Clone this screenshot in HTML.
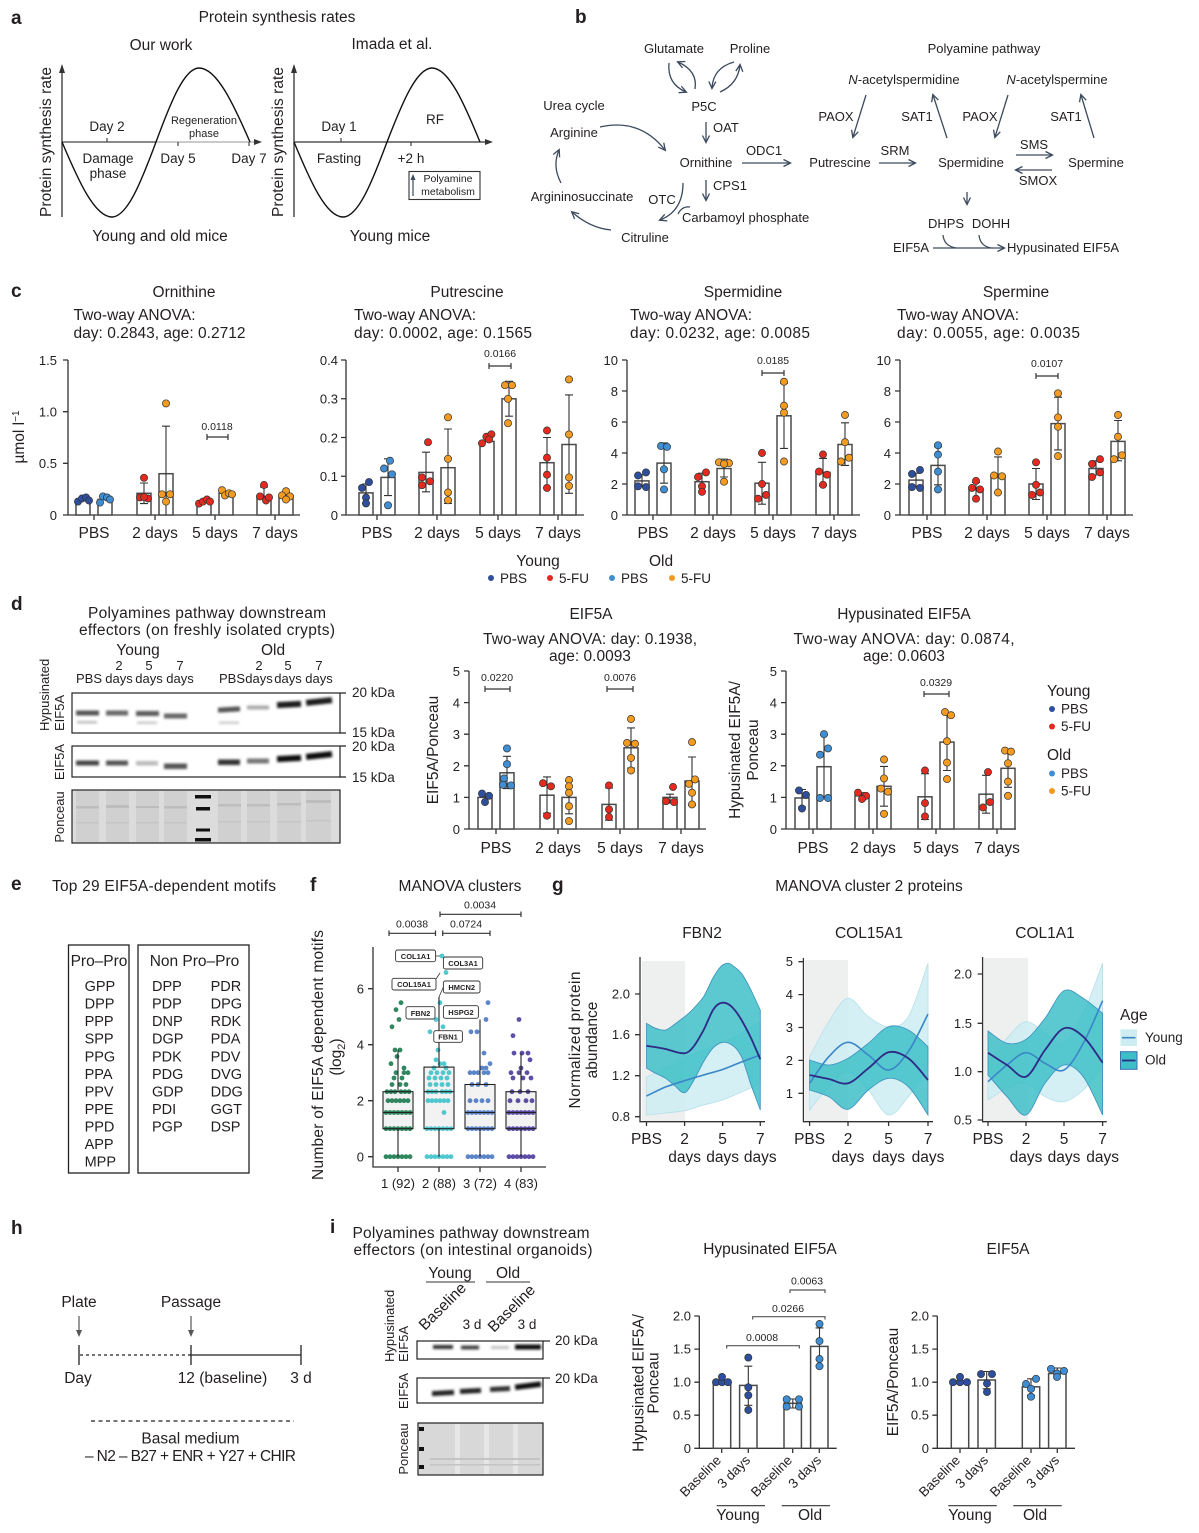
<!DOCTYPE html>
<html><head><meta charset="utf-8">
<style>
html,body{margin:0;padding:0;background:#fff}
svg{display:block}
text{font-family:"Liberation Sans",Arial,sans-serif;fill:#231f20}
.L{font-size:19px;font-weight:bold}
.m{font-size:15.5px}
.s{font-size:13.5px}
.b{font-size:13px}
.k{font-size:13px}
.x{font-size:10.5px}
.ax{stroke:#333;stroke-width:1.3;fill:none}
.bar{fill:#fff;stroke:#4a4a4a;stroke-width:1.5}
.eb{stroke:#333;stroke-width:1.1;fill:none}
.ar{stroke:#3c4a5e;stroke-width:1.3;fill:none}
.sg{stroke:#333;stroke-width:1.2;fill:none}
.yr{fill:#cdedf2;fill-opacity:0.85;stroke:#b5e0ea;stroke-width:0.8}
.or{fill:#3ebfc7;fill-opacity:0.85;stroke:#3b8fbf;stroke-width:0.8}
.yl{fill:none;stroke:#3a86c8;stroke-width:1.6}
.ol{fill:none;stroke:#2e2a86;stroke-width:1.8}
</style></head><body>
<svg width="1199" height="1533" viewBox="0 0 1199 1533" xmlns="http://www.w3.org/2000/svg">
<defs>
<marker id="ah" markerWidth="9" markerHeight="9" refX="7" refY="4.5" orient="auto" markerUnits="userSpaceOnUse"><path d="M0.5,1 L7.5,4.5 L0.5,8" fill="none" stroke="#3c4a5e" stroke-width="1.3"/></marker>
<filter id="bl" x="-20%" y="-100%" width="140%" height="300%"><feGaussianBlur stdDeviation="1.2"/></filter>
</defs>
<rect width="1199" height="1533" fill="#fff"/>

<!-- ================= PANEL A ================= -->
<text class="L" x="11" y="24">a</text>
<text class="m" x="277" y="22" text-anchor="middle">Protein synthesis rates</text>
<text class="m" x="161" y="50" text-anchor="middle">Our work</text>
<text class="m" x="392" y="49" text-anchor="middle">Imada et al.</text>
<line x1="62" y1="217" x2="62" y2="70" class="ax"/>
<path d="M59,73 L62,64 L65,73z" fill="#333"/>
<line x1="62" y1="142" x2="156" y2="142" stroke="#444" stroke-width="1.3"/>
<line x1="156" y1="142" x2="256" y2="142" stroke="#aaa" stroke-width="1.3"/>
<path d="M254,139 L262,142 L254,145z" fill="#333"/>
<path d="M62,142 C78.3,180.4 94.5,217 112,217 C127.4,217 141.7,180.4 156,142 C170,104.1 184,68 199,68 C216.8,68 233.4,104.1 250,142" fill="none" stroke="#111" stroke-width="1.4"/>
<path d="M107,138 V142 M178,142 V146 M249,142 V146" stroke="#444" stroke-width="1.2"/>
<text class="s" x="107" y="131" text-anchor="middle">Day 2</text>
<text class="s" x="108" y="163" text-anchor="middle">Damage</text>
<text class="s" x="108" y="178" text-anchor="middle">phase</text>
<text class="s" x="178" y="163" text-anchor="middle">Day 5</text>
<text class="s" x="249" y="163" text-anchor="middle">Day 7</text>
<text x="204" y="124" text-anchor="middle" style="font-size:11px">Regeneration</text>
<text x="204" y="137" text-anchor="middle" style="font-size:11px">phase</text>
<text class="m" transform="translate(51,142) rotate(-90)" text-anchor="middle" textLength="150">Protein synthesis rate</text>
<text class="m" x="160" y="241" text-anchor="middle">Young and old mice</text>
<line x1="294" y1="217" x2="294" y2="70" class="ax"/>
<path d="M291,73 L294,64 L297,73z" fill="#333"/>
<line x1="294" y1="142" x2="487" y2="142" stroke="#555" stroke-width="1.4"/>
<path d="M485,139 L493,142 L485,145z" fill="#333"/>
<path d="M294,142 C310,180.4 325.9,217 343,217 C358.4,217 372.7,180.4 387,142 C401.7,104.1 416.3,68 432,68 C448.8,68 464.4,104.1 480,142" fill="none" stroke="#111" stroke-width="1.4"/>
<path d="M341,138 V142 M411,142 V146" stroke="#444" stroke-width="1.2"/>
<text class="s" x="339" y="131" text-anchor="middle">Day 1</text>
<text class="s" x="339" y="163" text-anchor="middle">Fasting</text>
<text class="s" x="411" y="163" text-anchor="middle">+2 h</text>
<text class="s" x="435" y="124" text-anchor="middle">RF</text>
<rect x="409" y="171.5" width="71" height="28" fill="none" stroke="#333" stroke-width="1.1"/>
<line x1="413" y1="196" x2="413" y2="179" stroke="#3c4a5e" stroke-width="1.2"/>
<path d="M410.5,180 L413,174 L415.5,180z" fill="#3c4a5e"/>
<text x="448" y="182" text-anchor="middle" style="font-size:10.5px">Polyamine</text>
<text x="448" y="195" text-anchor="middle" style="font-size:10.5px">metabolism</text>
<text class="m" transform="translate(283,142) rotate(-90)" text-anchor="middle" textLength="150">Protein synthesis rate</text>
<text class="m" x="390" y="241" text-anchor="middle">Young mice</text>

<!-- ================= PANEL B ================= -->
<text class="L" x="575" y="23">b</text>
<text class="b" x="674" y="53" text-anchor="middle">Glutamate</text>
<text class="b" x="750" y="53" text-anchor="middle">Proline</text>
<path class="ar" d="M669,63 Q667,84 686,92" marker-end="url(#ah)"/>
<path class="ar" d="M695,89 Q698,71 678,62" marker-end="url(#ah)"/>
<path class="ar" d="M720,92 Q738,84 740,65" marker-end="url(#ah)"/>
<path class="ar" d="M734,62 Q713,68 712,88" marker-end="url(#ah)"/>
<text class="b" x="704" y="111" text-anchor="middle">P5C</text>
<line class="ar" x1="706" y1="122" x2="706" y2="142" marker-end="url(#ah)"/>
<text class="b" x="713" y="132">OAT</text>
<text class="b" x="574" y="110" text-anchor="middle">Urea cycle</text>
<text class="b" x="574" y="137" text-anchor="middle">Arginine</text>
<path class="ar" d="M600,127 Q640,118 665,150" marker-end="url(#ah)"/>
<text class="b" x="706" y="167" text-anchor="middle">Ornithine</text>
<line class="ar" x1="742" y1="163" x2="790" y2="163" marker-end="url(#ah)"/>
<text class="b" x="764" y="155" text-anchor="middle">ODC1</text>
<text class="b" x="840" y="167" text-anchor="middle">Putrescine</text>
<line class="ar" x1="879" y1="163" x2="915" y2="163" marker-end="url(#ah)"/>
<text class="b" x="895" y="155" text-anchor="middle">SRM</text>
<text class="b" x="971" y="167" text-anchor="middle">Spermidine</text>
<line class="ar" x1="1016" y1="155" x2="1052" y2="155" marker-end="url(#ah)"/>
<text class="b" x="1034" y="149" text-anchor="middle">SMS</text>
<line class="ar" x1="1052" y1="170" x2="1016" y2="170" marker-end="url(#ah)"/>
<text class="b" x="1038" y="185" text-anchor="middle">SMOX</text>
<text class="b" x="1096" y="167" text-anchor="middle">Spermine</text>
<text class="b" x="984" y="53" text-anchor="middle">Polyamine pathway</text>
<text class="b" x="904" y="84" text-anchor="middle"><tspan font-style="italic">N</tspan>-acetylspermidine</text>
<text class="b" x="1057" y="84" text-anchor="middle"><tspan font-style="italic">N</tspan>-acetylspermine</text>
<line class="ar" x1="866" y1="95" x2="853" y2="137" marker-end="url(#ah)"/>
<text class="b" x="836" y="121" text-anchor="middle">PAOX</text>
<line class="ar" x1="947" y1="138" x2="933" y2="95" marker-end="url(#ah)"/>
<text class="b" x="917" y="121" text-anchor="middle">SAT1</text>
<line class="ar" x1="1008" y1="95" x2="995" y2="137" marker-end="url(#ah)"/>
<text class="b" x="980" y="121" text-anchor="middle">PAOX</text>
<line class="ar" x1="1094" y1="138" x2="1081" y2="95" marker-end="url(#ah)"/>
<text class="b" x="1066" y="121" text-anchor="middle">SAT1</text>
<line class="ar" x1="967" y1="192" x2="967" y2="204" marker-end="url(#ah)"/>
<text class="b" x="946" y="228" text-anchor="middle">DHPS</text>
<text class="b" x="991" y="228" text-anchor="middle">DOHH</text>
<text class="b" x="911" y="252" text-anchor="middle">EIF5A</text>
<line class="ar" x1="933" y1="248" x2="1004" y2="248" marker-end="url(#ah)"/>
<path class="ar" d="M943,235 Q944,246 956,248 M979,235 Q980,246 991,248"/>
<text class="b" x="1007" y="252">Hypusinated EIF5A</text>
<line class="ar" x1="706" y1="180" x2="706" y2="200" marker-end="url(#ah)"/>
<text class="b" x="713" y="190">CPS1</text>
<text class="b" x="682" y="222">Carbamoyl phosphate</text>
<text class="b" x="662" y="204" text-anchor="middle">OTC</text>
<path class="ar" d="M683,183 Q683,211 660,220" marker-end="url(#ah)"/>
<path class="ar" d="M690,207 Q682,206 678,214"/>
<text class="b" x="582" y="201" text-anchor="middle">Argininosuccinate</text>
<text class="b" x="645" y="242" text-anchor="middle">Citruline</text>
<path class="ar" d="M611,230 Q590,228 572,212" marker-end="url(#ah)"/>
<path class="ar" d="M561,183 Q552,166 559,150" marker-end="url(#ah)"/>

<!-- ================= PANEL C ================= -->
<text class="L" x="11" y="297">c</text>
<text class="m" x="184" y="297" text-anchor="middle">Ornithine</text>
<text class="m" x="73.5" y="320" textLength="122">Two-way ANOVA:</text>
<text class="m" x="73.5" y="338" textLength="172">day: 0.2843, age: 0.2712</text>
<text class="m" x="467" y="297" text-anchor="middle">Putrescine</text>
<text class="m" x="354" y="320" textLength="122">Two-way ANOVA:</text>
<text class="m" x="354" y="338" textLength="178">day: 0.0002, age: 0.1565</text>
<text class="m" x="743" y="297" text-anchor="middle">Spermidine</text>
<text class="m" x="630" y="320" textLength="122">Two-way ANOVA:</text>
<text class="m" x="630" y="338" textLength="180">day: 0.0232, age: 0.0085</text>
<text class="m" x="1016" y="297" text-anchor="middle">Spermine</text>
<text class="m" x="897" y="320" textLength="122">Two-way ANOVA:</text>
<text class="m" x="897" y="338" textLength="183">day: 0.0055, age: 0.0035</text>

<text class="m" transform="translate(24,437) rotate(-90)" text-anchor="middle">µmol l<tspan dy="-5" font-size="10">−1</tspan></text>

<path class="ax" d="M68,360 V515 H300 M63,360 H68 M63,411.7 H68 M63,463.3 H68 M63,515 H68 M94,515 V520 M155,515 V520 M215,515 V520 M275,515 V520"/>
<g class="k" text-anchor="end"><text x="57" y="365">1.5</text><text x="57" y="416.5">1.0</text><text x="57" y="468">0.5</text><text x="57" y="520">0</text></g>
<g class="m" text-anchor="middle"><text x="94" y="538">PBS</text><text x="155" y="538">2 days</text><text x="215" y="538">5 days</text><text x="275" y="538">7 days</text></g>
<g class="bar">
<rect x="76" y="500.5" width="14" height="14.5"/><rect x="98" y="499.5" width="14" height="15.5"/>
<rect x="137" y="493.3" width="14" height="21.7"/><rect x="159" y="473.7" width="14" height="41.3"/>
<rect x="197" y="501.6" width="14" height="13.4"/><rect x="219" y="493.3" width="14" height="21.7"/>
<rect x="257" y="496.4" width="14" height="18.6"/><rect x="279" y="496.4" width="14" height="18.6"/>
</g>
<path class="eb" d="M144,483 V503.6 M140,483 H148 M140,503.6 H148 M166,426.2 V515 M162,426.2 H170 M264,487.1 V502.6 M260,487.1 H268 M286,492.3 V500.5 M282,492.3 H290"/>
<g fill="#2d4f9e" stroke="#333" stroke-width="0.7"><circle cx="78" cy="501.6" r="3.6"/><circle cx="82" cy="498.5" r="3.6"/><circle cx="86" cy="497.4" r="3.6"/><circle cx="89" cy="500.5" r="3.6"/></g>
<g fill="#3f8ed3" stroke="#333" stroke-width="0.7"><circle cx="100" cy="502.6" r="3.6"/><circle cx="103" cy="496.4" r="3.6"/><circle cx="107" cy="497.4" r="3.6"/><circle cx="110" cy="499.5" r="3.6"/></g>
<g fill="#e42a1f" stroke="#333" stroke-width="0.7"><circle cx="144" cy="477.8" r="3.6"/><circle cx="140" cy="497.4" r="3.6"/><circle cx="148" cy="498.5" r="3.6"/><circle cx="144" cy="497" r="3.6"/>
<circle cx="199" cy="503.6" r="3.6"/><circle cx="203" cy="501.6" r="3.6"/><circle cx="207" cy="499.5" r="3.6"/><circle cx="210" cy="501.6" r="3.6"/>
<circle cx="264" cy="485" r="3.6"/><circle cx="260" cy="496.4" r="3.6"/><circle cx="266" cy="500.5" r="3.6"/><circle cx="269" cy="497.4" r="3.6"/></g>
<g fill="#f39a21" stroke="#333" stroke-width="0.7"><circle cx="166" cy="403.4" r="3.6"/><circle cx="162" cy="494.3" r="3.6"/><circle cx="170" cy="494.3" r="3.6"/><circle cx="166" cy="501.6" r="3.6"/>
<circle cx="222" cy="490.2" r="3.6"/><circle cx="225" cy="495.4" r="3.6"/><circle cx="229" cy="493.3" r="3.6"/><circle cx="232" cy="494.3" r="3.6"/>
<circle cx="286" cy="491.2" r="3.6"/><circle cx="282" cy="495.4" r="3.6"/><circle cx="290" cy="496.4" r="3.6"/><circle cx="286" cy="499.5" r="3.6"/></g>
<path class="sg" d="M207,434 V440 M207,437 H228 M228,434 V440"/>
<text class="x" x="217" y="430" text-anchor="middle">0.0118</text>

<path class="ax" d="M346,360 V515 H584 M341,360 H346 M341,398.75 H346 M341,437.5 H346 M341,476.25 H346 M341,515 H346 M377,515 V520 M437,515 V520 M498,515 V520 M558,515 V520"/>
<g class="k" text-anchor="end"><text x="338" y="365">0.4</text><text x="338" y="403.7">0.3</text><text x="338" y="442.5">0.2</text><text x="338" y="481.2">0.1</text><text x="338" y="520">0</text></g>
<g class="m" text-anchor="middle"><text x="377" y="538">PBS</text><text x="437" y="538">2 days</text><text x="498" y="538">5 days</text><text x="558" y="538">7 days</text></g>
<g class="bar">
<rect x="359" y="492.9" width="14" height="22.1"/><rect x="381" y="477.4" width="14" height="37.6"/>
<rect x="419" y="472.4" width="14" height="42.6"/><rect x="441" y="467.7" width="14" height="47.3"/>
<rect x="480" y="441.4" width="14" height="73.6"/><rect x="502" y="398.8" width="14" height="116.2"/>
<rect x="540" y="462.7" width="14" height="52.3"/><rect x="562" y="444.5" width="14" height="70.5"/>
</g>
<path class="eb" d="M366,484 V503.4 M362,484 H370 M362,503.4 H370 M388,458.8 V495.6 M384,458.8 H392 M384,495.6 H392 M426,452.2 V491.8 M422,452.2 H430 M422,491.8 H430 M448,429 V503.4 M444,429 H452 M444,503.4 H452 M509,381.3 V416.2 M505,381.3 H513 M505,416.2 H513 M547,437.5 V487.9 M543,437.5 H551 M543,487.9 H551 M569,394.9 V493.3 M565,394.9 H573 M565,493.3 H573"/>
<g fill="#2d4f9e" stroke="#333" stroke-width="0.7"><circle cx="369" cy="482.1" r="3.6"/><circle cx="362" cy="487.9" r="3.6"/><circle cx="366" cy="497.6" r="3.6"/><circle cx="366" cy="503.4" r="3.6"/></g>
<g fill="#3f8ed3" stroke="#333" stroke-width="0.7"><circle cx="390" cy="460.7" r="3.6"/><circle cx="384" cy="468.5" r="3.6"/><circle cx="392" cy="474.3" r="3.6"/><circle cx="388" cy="505.3" r="3.6"/></g>
<g fill="#e42a1f" stroke="#333" stroke-width="0.7"><circle cx="428" cy="442.2" r="3.6"/><circle cx="422" cy="477.4" r="3.6"/><circle cx="430" cy="481.3" r="3.6"/><circle cx="422" cy="485.2" r="3.6"/>
<circle cx="482" cy="443.3" r="3.6"/><circle cx="486.4" cy="436.7" r="3.6"/><circle cx="491.4" cy="434.3" r="3.6"/><circle cx="489" cy="439.4" r="3.6"/>
<circle cx="547" cy="430.5" r="3.6"/><circle cx="547" cy="457.7" r="3.6"/><circle cx="547" cy="474.7" r="3.6"/><circle cx="547" cy="487.9" r="3.6"/></g>
<g fill="#f39a21" stroke="#333" stroke-width="0.7"><circle cx="448" cy="417.3" r="3.6"/><circle cx="448" cy="458.8" r="3.6"/><circle cx="448" cy="492.5" r="3.6"/><circle cx="448" cy="500.3" r="3.6"/>
<circle cx="505" cy="385.2" r="3.6"/><circle cx="512" cy="385.2" r="3.6"/><circle cx="508" cy="398.8" r="3.6"/><circle cx="508" cy="423.2" r="3.6"/>
<circle cx="569" cy="379.4" r="3.6"/><circle cx="569" cy="434.4" r="3.6"/><circle cx="569" cy="477.4" r="3.6"/><circle cx="569" cy="485.9" r="3.6"/></g>
<path class="sg" d="M489,363 V369 M489,366 H511 M511,363 V369"/>
<text class="x" x="500" y="357" text-anchor="middle">0.0166</text>

<path class="ax" d="M627,360 V515 H860 M622,360 H627 M622,391 H627 M622,422 H627 M622,453 H627 M622,484 H627 M622,515 H627 M653,515 V520 M713,515 V520 M773,515 V520 M834,515 V520"/>
<g class="k" text-anchor="end"><text x="618" y="365">10</text><text x="618" y="396">8</text><text x="618" y="427">6</text><text x="618" y="458">4</text><text x="618" y="489">2</text><text x="618" y="520">0</text></g>
<g class="m" text-anchor="middle"><text x="653" y="538">PBS</text><text x="713" y="538">2 days</text><text x="773" y="538">5 days</text><text x="834" y="538">7 days</text></g>
<g class="bar">
<rect x="635" y="480.9" width="14" height="34.1"/><rect x="657" y="463.1" width="14" height="51.9"/>
<rect x="695" y="481.7" width="14" height="33.3"/><rect x="717" y="468.5" width="14" height="46.5"/>
<rect x="755" y="483.2" width="14" height="31.8"/><rect x="777" y="415.8" width="14" height="99.2"/>
<rect x="816" y="472.4" width="14" height="42.6"/><rect x="838" y="444.5" width="14" height="70.5"/>
</g>
<path class="eb" d="M642,474.7 V487.1 M638,474.7 H646 M664,442.9 V483.2 M660,442.9 H668 M660,483.2 H668 M702,473.2 V490.2 M698,473.2 H706 M724,459.2 V477 M720,459.2 H728 M720,477 H728 M762,462.3 V504.2 M758,462.3 H766 M758,504.2 H766 M784,383.2 V448.4 M780,383.2 H788 M780,448.4 H788 M823,458.4 V485.5 M819,458.4 H827 M819,485.5 H827 M845,422.8 V465.4 M841,422.8 H849 M841,465.4 H849"/>
<g fill="#2d4f9e" stroke="#333" stroke-width="0.7"><circle cx="646" cy="472.4" r="3.6"/><circle cx="638" cy="475.5" r="3.6"/><circle cx="638" cy="486.3" r="3.6"/><circle cx="646" cy="487.1" r="3.6"/></g>
<g fill="#3f8ed3" stroke="#333" stroke-width="0.7"><circle cx="661" cy="446" r="3.6"/><circle cx="667" cy="446.8" r="3.6"/><circle cx="664" cy="469.3" r="3.6"/><circle cx="664" cy="489.4" r="3.6"/></g>
<g fill="#e42a1f" stroke="#333" stroke-width="0.7"><circle cx="706" cy="472.4" r="3.6"/><circle cx="698" cy="477" r="3.6"/><circle cx="702" cy="486.3" r="3.6"/><circle cx="702" cy="491.8" r="3.6"/>
<circle cx="762" cy="453" r="3.6"/><circle cx="762" cy="484" r="3.6"/><circle cx="766" cy="494.9" r="3.6"/><circle cx="758" cy="498.7" r="3.6"/>
<circle cx="823" cy="454.5" r="3.6"/><circle cx="819" cy="471.6" r="3.6"/><circle cx="827" cy="474.7" r="3.6"/><circle cx="823" cy="484.8" r="3.6"/></g>
<g fill="#f39a21" stroke="#333" stroke-width="0.7"><circle cx="719" cy="462.3" r="3.6"/><circle cx="729" cy="463.1" r="3.6"/><circle cx="724" cy="463.9" r="3.6"/><circle cx="724" cy="481.7" r="3.6"/>
<circle cx="784" cy="381.7" r="3.6"/><circle cx="784" cy="405.7" r="3.6"/><circle cx="784" cy="412.7" r="3.6"/><circle cx="784" cy="461.5" r="3.6"/>
<circle cx="845" cy="415" r="3.6"/><circle cx="845" cy="442.2" r="3.6"/><circle cx="849" cy="457.7" r="3.6"/><circle cx="841" cy="461.5" r="3.6"/></g>
<path class="sg" d="M762,370 V376 M762,373 H784 M784,370 V376"/>
<text class="x" x="773" y="364" text-anchor="middle">0.0185</text>

<path class="ax" d="M900,360 V515 H1133 M895,360 H900 M895,391 H900 M895,422 H900 M895,453 H900 M895,484 H900 M895,515 H900 M927,515 V520 M987,515 V520 M1047,515 V520 M1107,515 V520"/>
<g class="k" text-anchor="end"><text x="891" y="365">10</text><text x="891" y="396">8</text><text x="891" y="427">6</text><text x="891" y="458">4</text><text x="891" y="489">2</text><text x="891" y="520">0</text></g>
<g class="m" text-anchor="middle"><text x="927" y="538">PBS</text><text x="987" y="538">2 days</text><text x="1047" y="538">5 days</text><text x="1107" y="538">7 days</text></g>
<g class="bar">
<rect x="909" y="480.1" width="14" height="34.9"/><rect x="931" y="465.4" width="14" height="49.6"/>
<rect x="969" y="489.4" width="14" height="25.6"/><rect x="991" y="476.3" width="14" height="38.7"/>
<rect x="1029" y="484" width="14" height="31"/><rect x="1051" y="423.6" width="14" height="91.4"/>
<rect x="1089" y="468.5" width="14" height="46.5"/><rect x="1111" y="441.4" width="14" height="73.6"/>
</g>
<path class="eb" d="M916,473.2 V487.1 M912,473.2 H920 M938,446.8 V484.8 M934,446.8 H942 M934,484.8 H942 M976,482.5 V496.4 M972,482.5 H980 M998,456.9 V492.5 M994,456.9 H1002 M994,492.5 H1002 M1036,468.5 V499.5 M1032,468.5 H1040 M1032,499.5 H1040 M1058,397.2 V449.9 M1054,397.2 H1062 M1054,449.9 H1062 M1096,460.8 V476.3 M1092,460.8 H1100 M1118,420.5 V460.8 M1114,420.5 H1122 M1114,460.8 H1122"/>
<g fill="#2d4f9e" stroke="#333" stroke-width="0.7"><circle cx="920" cy="470" r="3.6"/><circle cx="912" cy="473.9" r="3.6"/><circle cx="912" cy="487.1" r="3.6"/><circle cx="920" cy="487.9" r="3.6"/></g>
<g fill="#3f8ed3" stroke="#333" stroke-width="0.7"><circle cx="938" cy="445.3" r="3.6"/><circle cx="938" cy="454.6" r="3.6"/><circle cx="938" cy="471.6" r="3.6"/><circle cx="938" cy="489.4" r="3.6"/></g>
<g fill="#e42a1f" stroke="#333" stroke-width="0.7"><circle cx="976" cy="480.9" r="3.6"/><circle cx="972" cy="487.9" r="3.6"/><circle cx="980" cy="489.4" r="3.6"/><circle cx="976" cy="498.7" r="3.6"/>
<circle cx="1036" cy="462.3" r="3.6"/><circle cx="1036" cy="484.8" r="3.6"/><circle cx="1040" cy="492.5" r="3.6"/><circle cx="1032" cy="494.9" r="3.6"/>
<circle cx="1100" cy="459.2" r="3.6"/><circle cx="1092" cy="463.9" r="3.6"/><circle cx="1100" cy="472.4" r="3.6"/><circle cx="1092" cy="477" r="3.6"/></g>
<g fill="#f39a21" stroke="#333" stroke-width="0.7"><circle cx="998" cy="451.5" r="3.6"/><circle cx="994" cy="475.5" r="3.6"/><circle cx="1002" cy="476.3" r="3.6"/><circle cx="998" cy="492.5" r="3.6"/>
<circle cx="1058" cy="393.3" r="3.6"/><circle cx="1058" cy="417.4" r="3.6"/><circle cx="1058" cy="426.7" r="3.6"/><circle cx="1058" cy="456.1" r="3.6"/>
<circle cx="1118" cy="415" r="3.6"/><circle cx="1118" cy="436.7" r="3.6"/><circle cx="1122" cy="455.3" r="3.6"/><circle cx="1114" cy="459.2" r="3.6"/></g>
<path class="sg" d="M1036,373 V379 M1036,376 H1058 M1058,373 V379"/>
<text class="x" x="1047" y="367" text-anchor="middle">0.0107</text>

<text class="m" x="538" y="566" text-anchor="middle">Young</text>
<text class="m" x="661" y="566" text-anchor="middle">Old</text>
<circle cx="491" cy="578" r="3" fill="#2d4f9e"/><text class="s" x="500" y="583">PBS</text>
<circle cx="550" cy="578" r="3" fill="#e42a1f"/><text class="s" x="559" y="583">5-FU</text>
<circle cx="612" cy="578" r="3" fill="#3f8ed3"/><text class="s" x="621" y="583">PBS</text>
<circle cx="672" cy="578" r="3" fill="#f39a21"/><text class="s" x="681" y="583">5-FU</text>

<!-- ================= PANEL D ================= -->
<text class="L" x="11" y="610">d</text>
<text class="m" x="207" y="618" text-anchor="middle" textLength="238">Polyamines pathway downstream</text>
<text class="m" x="207" y="635" text-anchor="middle" textLength="256">effectors (on freshly isolated crypts)</text>
<text class="m" x="138" y="655" text-anchor="middle">Young</text>
<text class="m" x="273" y="655" text-anchor="middle">Old</text>
<g class="b" text-anchor="middle">
<text x="119" y="670">2</text><text x="149" y="670">5</text><text x="180" y="670">7</text>
<text x="259" y="670">2</text><text x="288" y="670">5</text><text x="319" y="670">7</text>
<text x="89" y="683">PBS</text><text x="119" y="683">days</text><text x="149" y="683">days</text><text x="180" y="683">days</text>
<text x="232" y="683">PBS</text><text x="259" y="683">days</text><text x="288" y="683">days</text><text x="319" y="683">days</text>
</g>
<text class="b" transform="translate(49,731) rotate(-90)">Hypusinated</text>
<text class="b" transform="translate(64,731) rotate(-90)">EIF5A</text>
<text class="b" transform="translate(64,762) rotate(-90)" text-anchor="middle">EIF5A</text>
<text class="b" transform="translate(64,817) rotate(-90)" text-anchor="middle">Ponceau</text>
<rect x="72" y="693" width="268" height="40" fill="#fff" stroke="#222" stroke-width="1.2"/>
<g filter="url(#bl)">
<rect x="76" y="710.5" width="23" height="5" fill="#555"/><rect x="106" y="710.5" width="22" height="5" fill="#666"/><rect x="136" y="711" width="23" height="5" fill="#5a5a5a"/><rect x="164" y="713.5" width="23" height="5" fill="#666"/>
<rect x="77" y="721" width="20" height="2.5" fill="#bbb"/><rect x="137" y="721.5" width="20" height="2.5" fill="#c8c8c8"/><rect x="219" y="721.5" width="20" height="2.5" fill="#ccc"/>
<rect x="218" y="707" width="22" height="5" fill="#555" transform="rotate(-3 229 709)"/><rect x="247" y="705.5" width="22" height="4" fill="#aaa"/>
<rect x="277" y="701.5" width="24" height="6" fill="#1a1a1a" transform="rotate(-3 289 704)"/><rect x="306" y="698.5" width="26" height="6" fill="#1a1a1a" transform="rotate(-6 319 701)"/>
</g>
<path d="M340,693 H346 M340,733 H346" stroke="#222" stroke-width="1.2"/>
<text class="s" x="352" y="697">20 kDa</text>
<text class="s" x="352" y="737">15 kDa</text>
<rect x="72" y="746" width="268" height="31" fill="#fff" stroke="#222" stroke-width="1.2"/>
<g filter="url(#bl)">
<rect x="76" y="760.5" width="23" height="5" fill="#444"/><rect x="106" y="760.5" width="22" height="5" fill="#555"/><rect x="136" y="761" width="22" height="4.5" fill="#bbb"/><rect x="164" y="763.5" width="23" height="5.5" fill="#555"/>
<rect x="218" y="759.5" width="22" height="5.5" fill="#333"/><rect x="247" y="758.5" width="22" height="5" fill="#777"/>
<rect x="277" y="755.5" width="24" height="6" fill="#111" transform="rotate(-3 289 758)"/><rect x="306" y="752.5" width="26" height="6" fill="#111" transform="rotate(-6 319 755)"/>
</g>
<path d="M340,746 H346 M340,777 H346" stroke="#222" stroke-width="1.2"/>
<text class="s" x="352" y="751">20 kDa</text>
<text class="s" x="352" y="782">15 kDa</text>
<rect x="72" y="790" width="268" height="53" fill="#dcdcdc" stroke="#222" stroke-width="1.2"/>
<g fill="#d0d0d0"><rect x="76" y="791" width="23" height="51"/><rect x="106" y="791" width="23" height="51"/><rect x="136" y="791" width="23" height="51"/><rect x="164" y="791" width="23" height="51"/><rect x="218" y="791" width="23" height="51"/><rect x="247" y="791" width="23" height="51"/><rect x="277" y="791" width="24" height="51"/><rect x="306" y="791" width="25" height="51"/></g>
<g fill="#bdbdbd"><rect x="76" y="806" width="23" height="2.5"/><rect x="106" y="805" width="23" height="3"/><rect x="136" y="806" width="23" height="2"/><rect x="164" y="806" width="23" height="2.5"/><rect x="218" y="804" width="23" height="2.5"/><rect x="247" y="804" width="23" height="2.5"/><rect x="277" y="803" width="24" height="2.5"/><rect x="306" y="800" width="25" height="3"/></g>
<g fill="#c6c6c6"><rect x="76" y="822" width="23" height="1.5"/><rect x="106" y="822" width="23" height="1.5"/><rect x="136" y="822" width="23" height="1.5"/><rect x="164" y="822" width="23" height="1.5"/><rect x="218" y="821" width="23" height="1.5"/><rect x="247" y="821" width="23" height="1.5"/><rect x="277" y="821" width="24" height="1.5"/><rect x="306" y="820" width="25" height="1.5"/></g>
<g fill="#111"><rect x="195" y="795" width="16" height="3.5"/><rect x="196" y="807" width="14" height="3.5"/><rect x="196" y="828.5" width="14" height="3"/><rect x="195" y="838" width="16" height="3.5"/></g>

<!-- D1 -->
<text class="m" x="591" y="619" text-anchor="middle">EIF5A</text>
<text class="m" x="590" y="644" text-anchor="middle" textLength="214">Two-way ANOVA: day: 0.1938,</text>
<text class="m" x="590" y="661" text-anchor="middle">age: 0.0093</text>
<text class="m" transform="translate(438,750) rotate(-90)" text-anchor="middle">EIF5A/Ponceau</text>
<path class="ax" d="M469,671 V829 H706 M464,671 H469 M464,702.6 H469 M464,734.2 H469 M464,765.8 H469 M464,797.4 H469 M464,829 H469 M496,829 V834 M558,829 V834 M620,829 V834 M681,829 V834"/>
<g class="k" text-anchor="end"><text x="460" y="676">5</text><text x="460" y="707.6">4</text><text x="460" y="739.2">3</text><text x="460" y="770.8">2</text><text x="460" y="802.4">1</text><text x="460" y="834">0</text></g>
<g class="m" text-anchor="middle"><text x="496" y="853">PBS</text><text x="558" y="853">2 days</text><text x="620" y="853">5 days</text><text x="681" y="853">7 days</text></g>
<g class="bar">
<rect x="478" y="797.4" width="14" height="31.6"/><rect x="500" y="772.8" width="14" height="56.2"/>
<rect x="540" y="795.2" width="14" height="33.8"/><rect x="562" y="797.4" width="14" height="31.6"/>
<rect x="602" y="804.4" width="14" height="24.6"/><rect x="624" y="747.8" width="14" height="81.2"/>
<rect x="663" y="797.4" width="14" height="31.6"/><rect x="685" y="781" width="14" height="48"/>
</g>
<path class="eb" d="M485,794.2 V802.1 M481,794.2 H489 M507,756.3 V788.6 M503,756.3 H511 M503,788.6 H511 M547,776.9 V813.2 M543,776.9 H551 M543,813.2 H551 M569,781 V813.8 M565,781 H573 M565,813.8 H573 M609,787.9 V820.2 M605,787.9 H613 M605,820.2 H613 M631,727.9 V768 M627,727.9 H635 M627,768 H635 M670,794.2 V803.7 M666,794.2 H674 M692,757 V805.3 M688,757 H696 M688,805.3 H696"/>
<g fill="#2d4f9e" stroke="#333" stroke-width="0.7"><circle cx="482" cy="793.6" r="3.6"/><circle cx="489" cy="795.8" r="3.6"/><circle cx="485" cy="802.1" r="3.6"/></g>
<g fill="#3f8ed3" stroke="#333" stroke-width="0.7"><circle cx="507" cy="748.4" r="3.6"/><circle cx="507" cy="764.2" r="3.6"/><circle cx="504" cy="778.4" r="3.6"/><circle cx="503" cy="784.8" r="3.6"/><circle cx="511" cy="785.4" r="3.6"/></g>
<g fill="#e42a1f" stroke="#333" stroke-width="0.7"><circle cx="543" cy="783.2" r="3.6"/><circle cx="551" cy="786.3" r="3.6"/><circle cx="547" cy="815.7" r="3.6"/>
<circle cx="609" cy="785.4" r="3.6"/><circle cx="609" cy="809.4" r="3.6"/><circle cx="609" cy="817" r="3.6"/>
<circle cx="673" cy="787" r="3.6"/><circle cx="666" cy="801.2" r="3.6"/><circle cx="674" cy="802.1" r="3.6"/></g>
<g fill="#f39a21" stroke="#333" stroke-width="0.7"><circle cx="569" cy="780" r="3.6"/><circle cx="569" cy="786.3" r="3.6"/><circle cx="569" cy="792.7" r="3.6"/><circle cx="569" cy="806.2" r="3.6"/><circle cx="569" cy="821.1" r="3.6"/>
<circle cx="631" cy="719" r="3.6"/><circle cx="627" cy="743" r="3.6"/><circle cx="635" cy="743.7" r="3.6"/><circle cx="631" cy="757.9" r="3.6"/><circle cx="631" cy="770.5" r="3.6"/>
<circle cx="692" cy="742.1" r="3.6"/><circle cx="695" cy="779.4" r="3.6"/><circle cx="689" cy="783.8" r="3.6"/><circle cx="692" cy="792.7" r="3.6"/><circle cx="692" cy="804.4" r="3.6"/></g>
<path class="sg" d="M485,686 V692 M485,689 H510 M510,686 V692 M607,686 V692 M607,689 H633 M633,686 V692"/>
<text class="x" x="497" y="681" text-anchor="middle">0.0220</text>
<text class="x" x="620" y="681" text-anchor="middle">0.0076</text>

<!-- D2 -->
<text class="m" x="904" y="619" text-anchor="middle">Hypusinated EIF5A</text>
<text class="m" x="904" y="644" text-anchor="middle" textLength="221">Two-way ANOVA: day: 0.0874,</text>
<text class="m" x="904" y="661" text-anchor="middle">age: 0.0603</text>
<text class="m" transform="translate(740,750) rotate(-90)" text-anchor="middle">Hypusinated EIF5A/</text>
<text class="m" transform="translate(758,750) rotate(-90)" text-anchor="middle">Ponceau</text>
<path class="ax" d="M786,671 V829 H1016 M781,671 H786 M781,702.6 H786 M781,734.2 H786 M781,765.8 H786 M781,797.4 H786 M781,829 H786 M813,829 V834 M873,829 V834 M936,829 V834 M997,829 V834"/>
<g class="k" text-anchor="end"><text x="777" y="676">5</text><text x="777" y="707.6">4</text><text x="777" y="739.2">3</text><text x="777" y="770.8">2</text><text x="777" y="802.4">1</text><text x="777" y="834">0</text></g>
<g class="m" text-anchor="middle"><text x="813" y="853">PBS</text><text x="873" y="853">2 days</text><text x="936" y="853">5 days</text><text x="997" y="853">7 days</text></g>
<g class="bar">
<rect x="795" y="798" width="14" height="31"/><rect x="817" y="766.7" width="14" height="62.3"/>
<rect x="855" y="795.8" width="14" height="33.2"/><rect x="877" y="786.3" width="14" height="42.7"/>
<rect x="918" y="796.8" width="14" height="32.2"/><rect x="940" y="742.1" width="14" height="86.9"/>
<rect x="979" y="794.2" width="14" height="34.8"/><rect x="1001" y="768.3" width="14" height="60.7"/>
</g>
<path class="eb" d="M802,789.5 V806.9 M798,789.5 H806 M798,806.9 H806 M824,734.8 V798.3 M820,734.8 H828 M862,792.7 V799 M858,792.7 H866 M884,766.4 V806.2 M880,766.4 H888 M880,806.2 H888 M925,773.7 V819.5 M921,773.7 H929 M921,819.5 H929 M947,713.7 V770.5 M943,713.7 H951 M943,770.5 H951 M986,775.3 V813.2 M982,775.3 H990 M982,813.2 H990 M1008,749.4 V787.3 M1004,749.4 H1012 M1004,787.3 H1012"/>
<g fill="#2d4f9e" stroke="#333" stroke-width="0.7"><circle cx="799" cy="790.4" r="3.6"/><circle cx="806" cy="794.9" r="3.6"/><circle cx="802" cy="808.5" r="3.6"/></g>
<g fill="#3f8ed3" stroke="#333" stroke-width="0.7"><circle cx="824" cy="734.2" r="3.6"/><circle cx="828" cy="748.4" r="3.6"/><circle cx="820" cy="754.7" r="3.6"/><circle cx="820" cy="798" r="3.6"/><circle cx="828" cy="798" r="3.6"/></g>
<g fill="#e42a1f" stroke="#333" stroke-width="0.7"><circle cx="858" cy="792.7" r="3.6"/><circle cx="866" cy="795.8" r="3.6"/><circle cx="862" cy="799" r="3.6"/>
<circle cx="925" cy="770.5" r="3.6"/><circle cx="925" cy="803.1" r="3.6"/><circle cx="925" cy="816.4" r="3.6"/>
<circle cx="988" cy="772.1" r="3.6"/><circle cx="990" cy="802.1" r="3.6"/><circle cx="983" cy="807.5" r="3.6"/></g>
<g fill="#f39a21" stroke="#333" stroke-width="0.7"><circle cx="884" cy="759.5" r="3.6"/><circle cx="884" cy="778.4" r="3.6"/><circle cx="881" cy="788.6" r="3.6"/><circle cx="888" cy="791.7" r="3.6"/><circle cx="884" cy="813.8" r="3.6"/>
<circle cx="945" cy="712.1" r="3.6"/><circle cx="951" cy="715.2" r="3.6"/><circle cx="947" cy="741.2" r="3.6"/><circle cx="947" cy="762.6" r="3.6"/><circle cx="947" cy="779.1" r="3.6"/>
<circle cx="1005" cy="750.6" r="3.6"/><circle cx="1011" cy="751.6" r="3.6"/><circle cx="1008" cy="763.3" r="3.6"/><circle cx="1008" cy="781.6" r="3.6"/><circle cx="1008" cy="795.8" r="3.6"/></g>
<path class="sg" d="M924,691 V697 M924,694 H949 M949,691 V697"/>
<text class="x" x="936" y="686" text-anchor="middle">0.0329</text>
<text class="m" x="1047" y="696">Young</text>
<circle cx="1052" cy="709" r="3" fill="#2d4f9e"/><text class="s" x="1061" y="713.5">PBS</text>
<circle cx="1052" cy="726.5" r="3" fill="#e42a1f"/><text class="s" x="1061" y="731">5-FU</text>
<text class="m" x="1047" y="760">Old</text>
<circle cx="1052" cy="773.5" r="3" fill="#3f8ed3"/><text class="s" x="1061" y="778">PBS</text>
<circle cx="1052" cy="791" r="3" fill="#f39a21"/><text class="s" x="1061" y="795.5">5-FU</text>

<!-- ================= PANEL E ================= -->
<text class="L" x="11" y="890">e</text>
<text class="m" x="52" y="891" textLength="224">Top 29 EIF5A-dependent motifs</text>
<rect x="68.5" y="945" width="60.5" height="228" fill="none" stroke="#222" stroke-width="1.3"/>
<rect x="138" y="945" width="111" height="228" fill="none" stroke="#222" stroke-width="1.3"/>
<text class="m" x="99" y="966" text-anchor="middle">Pro–Pro</text>
<text class="m" x="194.5" y="966" text-anchor="middle">Non Pro–Pro</text>
<g style="font-size:14.5px">
<text x="84.6" y="991">GPP</text><text x="84.6" y="1008.6">DPP</text><text x="84.6" y="1026.1">PPP</text><text x="84.6" y="1043.7">SPP</text><text x="84.6" y="1061.3">PPG</text><text x="84.6" y="1078.9">PPA</text><text x="84.6" y="1096.4">PPV</text><text x="84.6" y="1114">PPE</text><text x="84.6" y="1131.6">PPD</text><text x="84.6" y="1149.1">APP</text><text x="84.6" y="1166.7">MPP</text>
<text x="152" y="991">DPP</text><text x="152" y="1008.6">PDP</text><text x="152" y="1026.1">DNP</text><text x="152" y="1043.7">DGP</text><text x="152" y="1061.3">PDK</text><text x="152" y="1078.9">PDG</text><text x="152" y="1096.4">GDP</text><text x="152" y="1114">PDI</text><text x="152" y="1131.6">PGP</text>
<text x="210.6" y="991">PDR</text><text x="210.6" y="1008.6">DPG</text><text x="210.6" y="1026.1">RDK</text><text x="210.6" y="1043.7">PDA</text><text x="210.6" y="1061.3">PDV</text><text x="210.6" y="1078.9">DVG</text><text x="210.6" y="1096.4">DDG</text><text x="210.6" y="1114">GGT</text><text x="210.6" y="1131.6">DSP</text>
</g>

<!-- ================= PANEL F ================= -->
<text class="L" x="310" y="891">f</text>
<text class="m" x="460" y="891" text-anchor="middle">MANOVA clusters</text>
<text class="m" transform="translate(323,1055) rotate(-90)" text-anchor="middle" textLength="250">Number of EIF5A dependent motifs</text>
<text class="m" transform="translate(341,1057) rotate(-90)" text-anchor="middle">(log<tspan dy="4" font-size="11">2</tspan><tspan dy="-4">)</tspan></text>
<path class="ax" d="M373,947 V1167 H546 M368,1156.7 H373 M368,1100.7 H373 M368,1044.7 H373 M368,988.7 H373 M398,1167 V1172 M439,1167 V1172 M480,1167 V1172 M521,1167 V1172"/>
<g class="k" text-anchor="end"><text x="364" y="1161.5">0</text><text x="364" y="1105.5">2</text><text x="364" y="1049.5">4</text><text x="364" y="993.5">6</text></g>
<g class="k" text-anchor="middle"><text x="398" y="1188">1 (92)</text><text x="439" y="1188">2 (88)</text><text x="480" y="1188">3 (72)</text><text x="521" y="1188">4 (83)</text></g>
<g fill="#f2f2f2"><rect x="383" y="1091.7" width="30" height="37"/><rect x="424" y="1067.1" width="30" height="61.6"/><rect x="465" y="1084.5" width="30" height="44.2"/><rect x="506" y="1091.7" width="30" height="37"/></g>
<g fill="#1b7a4f" fill-opacity="0.9">
<circle cx="386" cy="1156.7" r="2.4"/><circle cx="390" cy="1156.7" r="2.4"/><circle cx="394" cy="1156.7" r="2.4"/><circle cx="398" cy="1156.7" r="2.4"/><circle cx="402" cy="1156.7" r="2.4"/><circle cx="406" cy="1156.7" r="2.4"/><circle cx="410" cy="1156.7" r="2.4"/>
<circle cx="386" cy="1128.7" r="2.4"/><circle cx="390" cy="1128.7" r="2.4"/><circle cx="394" cy="1128.7" r="2.4"/><circle cx="398" cy="1128.7" r="2.4"/><circle cx="402" cy="1128.7" r="2.4"/><circle cx="406" cy="1128.7" r="2.4"/><circle cx="410" cy="1128.7" r="2.4"/>
<circle cx="386" cy="1112.5" r="2.4"/><circle cx="390" cy="1112.5" r="2.4"/><circle cx="394" cy="1112.5" r="2.4"/><circle cx="398" cy="1112.5" r="2.4"/><circle cx="402" cy="1112.5" r="2.4"/><circle cx="406" cy="1112.5" r="2.4"/><circle cx="410" cy="1112.5" r="2.4"/>
<circle cx="388" cy="1100.7" r="2.4"/><circle cx="392" cy="1100.7" r="2.4"/><circle cx="396" cy="1100.7" r="2.4"/><circle cx="400" cy="1100.7" r="2.4"/><circle cx="404" cy="1100.7" r="2.4"/><circle cx="408" cy="1100.7" r="2.4"/>
<circle cx="387" cy="1091.7" r="2.4"/><circle cx="391" cy="1091.7" r="2.4"/><circle cx="395" cy="1091.7" r="2.4"/><circle cx="401" cy="1091.7" r="2.4"/><circle cx="405" cy="1091.7" r="2.4"/><circle cx="409" cy="1091.7" r="2.4"/>
<circle cx="392" cy="1084.5" r="2.4"/><circle cx="400" cy="1084.5" r="2.4"/><circle cx="406" cy="1084.5" r="2.4"/>
<circle cx="394" cy="1078" r="2.4"/><circle cx="402" cy="1078" r="2.4"/>
<circle cx="396" cy="1072.7" r="2.4"/><circle cx="404" cy="1072.7" r="2.4"/><circle cx="408" cy="1072.7" r="2.4"/>
<circle cx="404" cy="1068" r="2.4"/><circle cx="391" cy="1063.7" r="2.4"/><circle cx="397" cy="1056.5" r="2.4"/>
<circle cx="395" cy="1050" r="2.4"/><circle cx="400" cy="1050" r="2.4"/>
<circle cx="392" cy="1026.8" r="2.4"/><circle cx="399" cy="1019.5" r="2.4"/><circle cx="396" cy="1009.7" r="2.4"/><circle cx="401" cy="1002.7" r="2.4"/>
</g>
<g fill="#3ec1c9" fill-opacity="0.9">
<circle cx="427" cy="1156.7" r="2.4"/><circle cx="431" cy="1156.7" r="2.4"/><circle cx="435" cy="1156.7" r="2.4"/><circle cx="439" cy="1156.7" r="2.4"/><circle cx="443" cy="1156.7" r="2.4"/><circle cx="447" cy="1156.7" r="2.4"/><circle cx="451" cy="1156.7" r="2.4"/>
<circle cx="427" cy="1128.7" r="2.4"/><circle cx="431" cy="1128.7" r="2.4"/><circle cx="435" cy="1128.7" r="2.4"/><circle cx="439" cy="1128.7" r="2.4"/><circle cx="443" cy="1128.7" r="2.4"/><circle cx="447" cy="1128.7" r="2.4"/><circle cx="451" cy="1128.7" r="2.4"/>
<circle cx="444" cy="1112.5" r="2.4"/>
<circle cx="428" cy="1100.7" r="2.4"/><circle cx="432" cy="1100.7" r="2.4"/><circle cx="436" cy="1100.7" r="2.4"/><circle cx="440" cy="1100.7" r="2.4"/><circle cx="444" cy="1100.7" r="2.4"/><circle cx="448" cy="1100.7" r="2.4"/>
<circle cx="428" cy="1091.7" r="2.4"/><circle cx="432" cy="1091.7" r="2.4"/><circle cx="436" cy="1091.7" r="2.4"/><circle cx="442" cy="1091.7" r="2.4"/><circle cx="446" cy="1091.7" r="2.4"/><circle cx="450" cy="1091.7" r="2.4"/>
<circle cx="430" cy="1084.5" r="2.4"/><circle cx="436" cy="1084.5" r="2.4"/><circle cx="442" cy="1084.5" r="2.4"/><circle cx="448" cy="1084.5" r="2.4"/>
<circle cx="429" cy="1078" r="2.4"/><circle cx="435" cy="1078" r="2.4"/><circle cx="441" cy="1078" r="2.4"/><circle cx="447" cy="1078" r="2.4"/>
<circle cx="431" cy="1072.7" r="2.4"/><circle cx="437" cy="1072.7" r="2.4"/><circle cx="443" cy="1072.7" r="2.4"/><circle cx="449" cy="1072.7" r="2.4"/>
<circle cx="434" cy="1068" r="2.4"/><circle cx="446" cy="1068" r="2.4"/><circle cx="440" cy="1063.7" r="2.4"/><circle cx="444" cy="1063.7" r="2.4"/>
<circle cx="436" cy="1059.8" r="2.4"/><circle cx="438" cy="1050" r="2.4"/><circle cx="439" cy="1035.7" r="2.4"/><circle cx="430" cy="1031.8" r="2.4"/><circle cx="443" cy="1026.8" r="2.4"/>
<circle cx="436" cy="1019.5" r="2.4"/><circle cx="440" cy="1002.7" r="2.4"/><circle cx="446" cy="972.5" r="2.4"/><circle cx="442" cy="956" r="2.4"/>
</g>
<g fill="#4a79c3" fill-opacity="0.9">
<circle cx="468" cy="1156.7" r="2.4"/><circle cx="472" cy="1156.7" r="2.4"/><circle cx="476" cy="1156.7" r="2.4"/><circle cx="480" cy="1156.7" r="2.4"/><circle cx="484" cy="1156.7" r="2.4"/><circle cx="488" cy="1156.7" r="2.4"/><circle cx="492" cy="1156.7" r="2.4"/>
<circle cx="468" cy="1128.7" r="2.4"/><circle cx="472" cy="1128.7" r="2.4"/><circle cx="476" cy="1128.7" r="2.4"/><circle cx="480" cy="1128.7" r="2.4"/><circle cx="484" cy="1128.7" r="2.4"/><circle cx="488" cy="1128.7" r="2.4"/><circle cx="492" cy="1128.7" r="2.4"/>
<circle cx="468" cy="1112.5" r="2.4"/><circle cx="472" cy="1112.5" r="2.4"/><circle cx="476" cy="1112.5" r="2.4"/><circle cx="480" cy="1112.5" r="2.4"/><circle cx="484" cy="1112.5" r="2.4"/><circle cx="488" cy="1112.5" r="2.4"/><circle cx="492" cy="1112.5" r="2.4"/>
<circle cx="470" cy="1100.7" r="2.4"/><circle cx="476" cy="1100.7" r="2.4"/><circle cx="482" cy="1100.7" r="2.4"/><circle cx="488" cy="1100.7" r="2.4"/>
<circle cx="472" cy="1084.5" r="2.4"/><circle cx="478" cy="1084.5" r="2.4"/><circle cx="486" cy="1084.5" r="2.4"/>
<circle cx="470" cy="1072.7" r="2.4"/><circle cx="474" cy="1072.7" r="2.4"/><circle cx="478" cy="1072.7" r="2.4"/><circle cx="484" cy="1072.7" r="2.4"/><circle cx="488" cy="1072.7" r="2.4"/>
<circle cx="482" cy="1068" r="2.4"/><circle cx="486" cy="1068" r="2.4"/><circle cx="490" cy="1063.7" r="2.4"/><circle cx="484" cy="1053.1" r="2.4"/>
<circle cx="471" cy="1031.8" r="2.4"/><circle cx="477" cy="1031.8" r="2.4"/><circle cx="486" cy="1019.5" r="2.4"/><circle cx="488" cy="1002.7" r="2.4"/>
</g>
<g fill="#4c3b9b" fill-opacity="0.9">
<circle cx="509" cy="1156.7" r="2.4"/><circle cx="513" cy="1156.7" r="2.4"/><circle cx="517" cy="1156.7" r="2.4"/><circle cx="521" cy="1156.7" r="2.4"/><circle cx="525" cy="1156.7" r="2.4"/><circle cx="529" cy="1156.7" r="2.4"/><circle cx="533" cy="1156.7" r="2.4"/>
<circle cx="509" cy="1128.7" r="2.4"/><circle cx="513" cy="1128.7" r="2.4"/><circle cx="517" cy="1128.7" r="2.4"/><circle cx="521" cy="1128.7" r="2.4"/><circle cx="525" cy="1128.7" r="2.4"/><circle cx="529" cy="1128.7" r="2.4"/><circle cx="533" cy="1128.7" r="2.4"/>
<circle cx="509" cy="1112.5" r="2.4"/><circle cx="513" cy="1112.5" r="2.4"/><circle cx="517" cy="1112.5" r="2.4"/><circle cx="521" cy="1112.5" r="2.4"/><circle cx="525" cy="1112.5" r="2.4"/><circle cx="529" cy="1112.5" r="2.4"/><circle cx="533" cy="1112.5" r="2.4"/>
<circle cx="510" cy="1100.7" r="2.4"/><circle cx="518" cy="1100.7" r="2.4"/><circle cx="526" cy="1100.7" r="2.4"/><circle cx="532" cy="1100.7" r="2.4"/>
<circle cx="512" cy="1091.7" r="2.4"/><circle cx="520" cy="1091.7" r="2.4"/><circle cx="528" cy="1091.7" r="2.4"/>
<circle cx="513" cy="1078" r="2.4"/><circle cx="523" cy="1078" r="2.4"/><circle cx="531" cy="1078" r="2.4"/>
<circle cx="511" cy="1072.7" r="2.4"/><circle cx="519" cy="1072.7" r="2.4"/><circle cx="527" cy="1072.7" r="2.4"/>
<circle cx="521" cy="1068" r="2.4"/><circle cx="530" cy="1059.8" r="2.4"/>
<circle cx="514" cy="1053.1" r="2.4"/><circle cx="522" cy="1053.1" r="2.4"/><circle cx="528" cy="1053.1" r="2.4"/>
<circle cx="513" cy="1035.7" r="2.4"/><circle cx="519" cy="1019.5" r="2.4"/>
</g>
<g fill="none" stroke="#222" stroke-width="1.1">
<rect x="383" y="1091.7" width="30" height="37"/><path d="M383,1112.5 H413 M398,1050.3 V1091.7 M398,1128.7 V1156.7"/>
<rect x="424" y="1067.1" width="30" height="61.6"/><path d="M424,1091.7 H454 M439,997 V1067.1 M439,1128.7 V1156.7"/>
<rect x="465" y="1084.5" width="30" height="44.2"/><path d="M465,1112.5 H495 M480,1019.5 V1084.5 M480,1128.7 V1156.7"/>
<rect x="506" y="1091.7" width="30" height="37"/><path d="M506,1112.5 H536 M521,1053.1 V1091.7 M521,1128.7 V1156.7"/>
</g>
<g fill="#fff" stroke="#333" stroke-width="0.9">
<rect x="395.6" y="950" width="40" height="11.7" rx="2"/><rect x="443.4" y="957" width="39.3" height="12" rx="2"/>
<rect x="392" y="978.3" width="44" height="11.7" rx="2"/><rect x="443.4" y="981" width="36.6" height="12" rx="2"/>
<rect x="406" y="1006.7" width="29" height="12.3" rx="2"/><rect x="443.4" y="1005.7" width="35" height="12.6" rx="2"/>
<rect x="433.8" y="1030.7" width="28.6" height="11.6" rx="2"/>
</g>
<g style="font-size:7.5px;font-weight:bold" text-anchor="middle">
<text x="415.6" y="958.8">COL1A1</text><text x="463" y="966">COL3A1</text><text x="414" y="987">COL15A1</text><text x="461.7" y="990">HMCN2</text>
<text x="420.5" y="1015.8">FBN2</text><text x="461" y="1015">HSPG2</text><text x="448" y="1039.5">FBN1</text>
</g>
<path d="M435.6,956 H440 M436,979 L440,973 M443.4,987 L439,997" stroke="#333" stroke-width="0.8" fill="none"/>
<path class="sg" d="M389,936 V930.5 M389,933.3 H435.5 M435.5,930.5 V936 M442.7,930.5 V936 M442.7,933.3 H490 M490,930.5 V936 M440,911.5 V917 M440,914.3 H521 M521,911.5 V917"/>
<g class="x" text-anchor="middle"><text x="412" y="927.7">0.0038</text><text x="466" y="927.7">0.0724</text><text x="480" y="908.3">0.0034</text></g>

<!-- ================= PANEL G ================= -->
<text class="L" x="552" y="891">g</text>
<text class="m" x="869" y="891" text-anchor="middle">MANOVA cluster 2 proteins</text>
<text class="m" x="702" y="938" text-anchor="middle">FBN2</text>
<text class="m" x="869" y="938" text-anchor="middle">COL15A1</text>
<text class="m" x="1045" y="938" text-anchor="middle">COL1A1</text>
<text class="m" transform="translate(580,1040) rotate(-90)" text-anchor="middle" textLength="137">Normalized protein</text>
<text class="m" transform="translate(597,1040) rotate(-90)" text-anchor="middle">abundance</text>
<!-- FBN2 -->
<rect x="642" y="961" width="43" height="160.7" fill="#eeefef"/>
<path class="yr" d="M646.5,1077.3 C652.8,1073.8 659.2,1071.2 665.5,1068 C671.9,1064.6 678.2,1061.1 684.6,1058 C690.9,1055 697.3,1052.5 703.6,1050 C710,1047.5 716.3,1045.7 722.6,1043 C728.9,1040.1 735.2,1036.8 741.5,1033 C747.8,1029.2 754,1025.3 760.3,1021.7 L760.3,1083 C754,1086.5 747.8,1089.5 741.5,1092 C735.2,1094.8 728.9,1097.6 722.6,1100 C716.3,1102.1 709.9,1103.4 703.6,1105 C697.3,1106.8 690.9,1109.5 684.6,1110.7 C678.2,1111.9 671.9,1112.4 665.5,1113 C659.2,1113.7 652.8,1114.6 646.5,1115 Z"/>
<path class="or" d="M646.5,1023.3 C649.3,1025 652.2,1027 655,1028 C658.5,1029.4 662,1030.6 665.5,1030 C668.7,1029.4 671.8,1026.4 675,1024 C678.2,1021.6 681.4,1019.2 684.6,1016.7 C687.7,1014.2 690.9,1011.6 694,1008 C697.2,1004.4 700.4,1001.4 703.6,996.7 C706.7,991.8 709.9,983.4 713,978 C716.2,972.4 719.4,967.1 722.6,965 C725.7,962.9 728.9,962.4 732,965 C735.2,967.6 738.3,969.4 741.5,973.3 C744.7,977.6 747.8,983.9 751,990 C754.1,996.6 757.2,1003.3 760.3,1010 L760.3,1110 C757.2,1101.7 754.1,1093.3 751,1085 C747.8,1075.5 744.7,1063.7 741.5,1056.7 C738.3,1050.4 735.2,1047 732,1045 C728.9,1043.1 725.7,1042 722.6,1042.3 C719.4,1042.6 716.2,1044.8 713,1048 C709.9,1051.5 706.7,1056.5 703.6,1061.7 C700.4,1067.5 697.2,1074.6 694,1080 C690.9,1085.3 687.7,1092 684.6,1092.7 C681.4,1093.3 678.2,1088.6 675,1086 C671.8,1083.4 668.7,1080.3 665.5,1078.3 C662,1076.1 658.5,1074.6 655,1073 C652.2,1071.7 649.3,1069.6 646.5,1068.3 Z"/>
<path class="yl" d="M646.5,1096 C652.8,1093.1 659.2,1089.5 665.5,1087 C671.9,1084.7 678.2,1082.7 684.6,1080.7 C690.9,1078.7 697.3,1076.9 703.6,1075 C710,1073 716.3,1071.7 722.6,1069.5 C728.9,1067.2 735.2,1064.4 741.5,1062 C747.8,1059.6 754,1057.3 760.3,1055"/>
<path class="ol" d="M646.5,1045.7 C652.8,1046.8 659.2,1047.6 665.5,1049 C671.9,1050.4 678.2,1053.5 684.6,1053.3 C687.7,1053.2 690.9,1050.2 694,1046 C697.2,1041.7 700.4,1035.8 703.6,1030 C706.7,1024.2 709.9,1015.2 713,1010 C716.2,1004.8 719.4,1002.9 722.6,1002.7 C725.7,1002.5 728.9,1004 732,1007 C735.2,1010.2 738.3,1014.5 741.5,1020 C744.7,1025.5 747.8,1031.4 751,1038 C754.1,1044.9 757.2,1052.2 760.3,1059.3" stroke-linejoin="round"/>
<path class="ax" d="M640,957 V1121.7 H765 M635,994 H640 M635,1034.7 H640 M635,1075.7 H640 M635,1116.7 H640 M646.5,1121.7 V1126 M684.6,1121.7 V1126 M722.6,1121.7 V1126 M760.3,1121.7 V1126"/>
<g class="k" text-anchor="end"><text x="630" y="998.5">2.0</text><text x="630" y="1039.2">1.6</text><text x="630" y="1080.2">1.2</text><text x="630" y="1121.2">0.8</text></g>
<g class="m" text-anchor="middle"><text x="646.5" y="1144">PBS</text><text x="684.6" y="1144">2</text><text x="722.6" y="1144">5</text><text x="760.3" y="1144">7</text><text x="684.6" y="1162">days</text><text x="722.6" y="1162">days</text><text x="760.3" y="1162">days</text></g>
<!-- COL15A1 -->
<rect x="805" y="960" width="43" height="161.7" fill="#eeefef"/>
<path class="yr" d="M809.6,1056.7 C812.8,1050.9 822.4,1031.4 828.8,1021.7 C835.2,1012 841.4,999.1 848,998.3 C854.6,997.5 861.5,1012 868.3,1016.7 C875.1,1021.4 881.9,1026.7 888.6,1026.7 C895.3,1026.7 901.7,1027.3 908.3,1016.7 C914.9,1006.1 924.7,972.2 928,963.3 L928,1068.3 C924.7,1073 914.9,1088.9 908.3,1096.7 C901.7,1104.5 895.3,1116.1 888.6,1115 C881.9,1113.9 875.1,1097.2 868.3,1090 C861.5,1082.8 854.6,1072.3 848,1071.7 C841.4,1071.2 835.2,1080.3 828.8,1086.7 C822.4,1093.1 812.8,1106.1 809.6,1110 Z"/>
<path class="or" d="M809.6,1060 C812.8,1060.8 822.4,1065.3 828.8,1065 C835.2,1064.7 841.4,1061.9 848,1058.3 C854.6,1054.7 861.5,1048.6 868.3,1043.3 C875.1,1038 881.9,1028.9 888.6,1026.7 C895.3,1024.5 901.7,1026.7 908.3,1030 C914.9,1033.3 924.7,1043.9 928,1046.7 L928,1115 C924.7,1110.3 914.9,1092.8 908.3,1086.7 C901.7,1080.6 895.3,1077.8 888.6,1078.3 C881.9,1078.9 875.1,1084.8 868.3,1090 C861.5,1095.2 854.6,1108.2 848,1109.3 C841.4,1110.4 835.2,1099.9 828.8,1096.7 C822.4,1093.5 812.8,1091.1 809.6,1090 Z"/>
<path class="yl" d="M809.6,1083.3 C812.8,1078.9 822.4,1063.5 828.8,1056.7 C835.2,1049.9 841.4,1042.6 848,1042.3 C854.6,1042 861.5,1050.4 868.3,1055 C875.1,1059.6 881.9,1070.6 888.6,1070 C895.3,1069.5 901.7,1061 908.3,1051.7 C914.9,1042.4 924.7,1020.3 928,1014"/>
<path class="ol" d="M809.6,1075 C812.8,1075.7 822.4,1077.6 828.8,1079 C835.2,1080.4 841.4,1085.1 848,1083.3 C854.6,1081.5 861.5,1073.5 868.3,1068.3 C875.1,1063.1 881.9,1054 888.6,1052.3 C895.3,1050.6 901.7,1053.7 908.3,1058.3 C914.9,1062.9 924.7,1076.4 928,1080"/>
<path class="ax" d="M803.4,958 V1121.7 H933 M798.4,961.7 H803.4 M798.4,994.6 H803.4 M798.4,1027.5 H803.4 M798.4,1060.4 H803.4 M798.4,1093.3 H803.4 M809.6,1121.7 V1126 M848,1121.7 V1126 M888.6,1121.7 V1126 M928,1121.7 V1126"/>
<g class="k" text-anchor="end"><text x="793" y="966.2">5</text><text x="793" y="999.1">4</text><text x="793" y="1032">3</text><text x="793" y="1064.9">2</text><text x="793" y="1097.8">1</text></g>
<g class="m" text-anchor="middle"><text x="809.6" y="1144">PBS</text><text x="848" y="1144">2</text><text x="888.6" y="1144">5</text><text x="928" y="1144">7</text><text x="848" y="1162">days</text><text x="888.6" y="1162">days</text><text x="928" y="1162">days</text></g>
<!-- COL1A1 -->
<rect x="984" y="958" width="44" height="163.7" fill="#eeefef"/>
<path class="yr" d="M988,1063.3 C991.2,1059.1 1000.7,1045.2 1007,1038.3 C1013.3,1031.4 1019.7,1022.5 1026,1021.7 C1032.3,1020.9 1038.7,1029.7 1045,1033.3 C1051.3,1036.9 1057.6,1046.6 1064,1043.3 C1070.4,1040 1076.9,1026.6 1083.3,1013.3 C1089.7,1000 1099.4,971.6 1102.6,963.3 L1102.6,1066.7 C1099.4,1070.6 1089.7,1084.2 1083.3,1090 C1076.9,1095.8 1070.4,1100.6 1064,1101.7 C1057.6,1102.8 1051.3,1099.8 1045,1096.7 C1038.7,1093.6 1032.3,1084.7 1026,1083.3 C1019.7,1081.9 1013.3,1085.5 1007,1088.3 C1000.7,1091.1 991.2,1098.1 988,1100 Z"/>
<path class="or" d="M988,1031 C991.2,1033.1 1000.7,1041.9 1007,1043.3 C1013.3,1044.7 1019.7,1043.5 1026,1039.3 C1032.3,1035.1 1038.7,1026.4 1045,1018.3 C1051.3,1010.2 1057.6,994 1064,990.7 C1070.4,987.4 1076.9,994.5 1083.3,998.3 C1089.7,1002.1 1099.4,1010.8 1102.6,1013.3 L1102.6,1115 C1099.4,1108.6 1089.7,1085 1083.3,1076.7 C1076.9,1068.4 1070.4,1063.9 1064,1065 C1057.6,1066.1 1051.3,1075 1045,1083.3 C1038.7,1091.6 1032.3,1112.8 1026,1115 C1019.7,1117.2 1013.3,1103.4 1007,1096.7 C1000.7,1090 991.2,1078.6 988,1075 Z"/>
<path class="yl" d="M988,1081.7 C991.2,1078.9 1000.7,1069.8 1007,1065 C1013.3,1060.2 1019.7,1053 1026,1052.7 C1032.3,1052.4 1038.7,1060.4 1045,1063.3 C1051.3,1066.2 1057.6,1073.3 1064,1070 C1070.4,1066.7 1076.9,1054.9 1083.3,1043.3 C1089.7,1031.8 1099.4,1007.8 1102.6,1000.7"/>
<path class="ol" d="M988,1052.7 C991.2,1054.8 1000.7,1061 1007,1065 C1013.3,1069 1019.7,1079.2 1026,1076.7 C1032.3,1074.2 1038.7,1058.1 1045,1050 C1051.3,1041.9 1057.6,1030.5 1064,1028.3 C1070.4,1026.1 1076.9,1031 1083.3,1036.7 C1089.7,1042.4 1099.4,1058.4 1102.6,1062.7"/>
<path class="ax" d="M982.6,957 V1121.7 H1106.8 M977.6,974 H982.6 M977.6,1023.3 H982.6 M977.6,1071.7 H982.6 M977.6,1120 H982.6 M988,1121.7 V1126 M1026,1121.7 V1126 M1064,1121.7 V1126 M1102.6,1121.7 V1126"/>
<g class="k" text-anchor="end"><text x="972" y="978.5">2.0</text><text x="972" y="1027.8">1.5</text><text x="972" y="1076.2">1.0</text><text x="972" y="1124.5">0.5</text></g>
<g class="m" text-anchor="middle"><text x="988" y="1144">PBS</text><text x="1026" y="1144">2</text><text x="1064" y="1144">5</text><text x="1102.6" y="1144">7</text><text x="1026" y="1162">days</text><text x="1064" y="1162">days</text><text x="1102.6" y="1162">days</text></g>
<text class="m" x="1120" y="1020">Age</text>
<rect x="1120.5" y="1029.3" width="16.5" height="16.7" fill="#cdedf2"/>
<line x1="1122" y1="1037.7" x2="1135.5" y2="1037.7" stroke="#3a86c8" stroke-width="1.6"/>
<text class="s" x="1145" y="1042">Young</text>
<rect x="1120.5" y="1051.7" width="16.5" height="17.6" fill="#3ebfc7" stroke="#3a6fb0" stroke-width="1"/>
<line x1="1122" y1="1060.5" x2="1135.5" y2="1060.5" stroke="#2e2a86" stroke-width="1.8"/>
<text class="s" x="1145" y="1064.5">Old</text>

<!-- ================= PANEL H ================= -->
<text class="L" x="11" y="1234">h</text>
<text class="m" x="79" y="1307" text-anchor="middle">Plate</text>
<text class="m" x="191" y="1307" text-anchor="middle">Passage</text>
<line x1="79" y1="1316" x2="79" y2="1331" stroke="#555" stroke-width="1.2"/><path d="M76,1330 L79,1337 L82,1330z" fill="#555"/>
<line x1="191" y1="1316" x2="191" y2="1331" stroke="#555" stroke-width="1.2"/><path d="M188,1330 L191,1337 L194,1330z" fill="#555"/>
<path d="M79,1345 V1365 M191,1345 V1365 M301,1345 V1365 M191,1355 H301" stroke="#222" stroke-width="1.3" fill="none"/>
<line x1="80" y1="1355" x2="191" y2="1355" stroke="#222" stroke-width="1.2" stroke-dasharray="3,3"/>
<text class="m" x="78" y="1383" text-anchor="middle">Day</text>
<text class="m" x="222.5" y="1383" text-anchor="middle">12 (baseline)</text>
<text class="m" x="301" y="1383" text-anchor="middle">3 d</text>
<line x1="91" y1="1421" x2="294" y2="1421" stroke="#222" stroke-width="1.2" stroke-dasharray="4,3.5"/>
<text class="m" x="190.5" y="1443.5" text-anchor="middle">Basal medium</text>
<text class="m" x="190.5" y="1461" text-anchor="middle" textLength="211">– N2 – B27 + ENR + Y27 + CHIR</text>

<!-- ================= PANEL I ================= -->
<text class="L" x="330" y="1233">i</text>
<text class="m" x="471" y="1238" text-anchor="middle" textLength="237">Polyamines pathway downstream</text>
<text class="m" x="473" y="1255" text-anchor="middle" textLength="239">effectors (on intestinal organoids)</text>
<text class="m" x="450" y="1278" text-anchor="middle">Young</text>
<text class="m" x="508" y="1278" text-anchor="middle">Old</text>
<path d="M426,1282 H475 M486,1282 H530" stroke="#333" stroke-width="1.1"/>
<text class="m" transform="translate(425,1331) rotate(-45)">Baseline</text>
<text class="s" x="472" y="1329" text-anchor="middle">3 d</text>
<text class="m" transform="translate(494,1333) rotate(-45)">Baseline</text>
<text class="s" x="527" y="1329" text-anchor="middle">3 d</text>
<text class="b" transform="translate(394,1362) rotate(-90)">Hypusinated</text>
<text class="b" transform="translate(408,1362) rotate(-90)">EIF5A</text>
<text class="b" transform="translate(408,1391) rotate(-90)" text-anchor="middle">EIF5A</text>
<text class="b" transform="translate(408,1449) rotate(-90)" text-anchor="middle">Ponceau</text>
<rect x="417" y="1341" width="126" height="18" fill="#fff" stroke="#222" stroke-width="1.2"/>
<g filter="url(#bl)"><rect x="433" y="1345" width="20" height="4" fill="#333"/><rect x="461" y="1345.5" width="18" height="4" fill="#444"/><rect x="491" y="1346" width="18" height="3" fill="#c4c4c4"/><rect x="515" y="1344.5" width="26" height="5" fill="#111"/></g>
<path d="M543,1341 H550" stroke="#222" stroke-width="1.2"/>
<text class="s" x="555" y="1345">20 kDa</text>
<rect x="417" y="1378" width="126" height="25" fill="#fff" stroke="#222" stroke-width="1.2"/>
<g filter="url(#bl)"><rect x="432" y="1390.5" width="22" height="5" fill="#222" transform="rotate(-3 443 1393)"/><rect x="460" y="1388.5" width="21" height="5" fill="#222" transform="rotate(-3 470 1391)"/><rect x="490" y="1386.5" width="20" height="5" fill="#333" transform="rotate(-3 500 1389)"/><rect x="515" y="1383" width="26" height="5.5" fill="#111" transform="rotate(-7 528 1385.5)"/></g>
<path d="M543,1378 H550" stroke="#222" stroke-width="1.2"/>
<text class="s" x="555" y="1383">20 kDa</text>
<rect x="418" y="1423" width="125" height="52" fill="#d8d8d8" stroke="#222" stroke-width="1.2"/>
<g fill="#e6e6e6"><rect x="455" y="1424" width="5" height="50"/><rect x="484" y="1424" width="5" height="50"/><rect x="513" y="1424" width="5" height="50"/></g>
<g fill="#c4c4c4"><rect x="430" y="1458" width="110" height="2"/><rect x="430" y="1464" width="110" height="1.5"/></g>
<g fill="#111"><rect x="419" y="1427" width="5" height="4"/><rect x="419" y="1447" width="5" height="4"/><rect x="419" y="1465" width="5" height="4"/></g>

<!-- I1 -->
<text class="m" x="770" y="1254" text-anchor="middle">Hypusinated EIF5A</text>
<text class="m" transform="translate(643.5,1383) rotate(-90)" text-anchor="middle">Hypusinated EIF5A/</text>
<text class="m" transform="translate(658.5,1383) rotate(-90)" text-anchor="middle">Ponceau</text>
<path class="ax" d="M699.3,1316 V1448.3 H836.7 M694.3,1316 H699.3 M694.3,1349.1 H699.3 M694.3,1382.2 H699.3 M694.3,1415.2 H699.3 M694.3,1448.3 H699.3 M721.7,1448.3 V1453 M748.3,1448.3 V1453 M792.7,1448.3 V1453 M819.3,1448.3 V1453"/>
<g class="k" text-anchor="end"><text x="691" y="1320.5">2.0</text><text x="691" y="1353.6">1.5</text><text x="691" y="1386.7">1.0</text><text x="691" y="1419.7">0.5</text><text x="691" y="1452.8">0</text></g>
<g class="bar"><rect x="713.3" y="1382.2" width="17.4" height="66.1"/><rect x="739.6" y="1385.4" width="17.4" height="62.9"/><rect x="784" y="1403.3" width="17.4" height="45"/><rect x="810.6" y="1346.4" width="17.4" height="101.9"/></g>
<path class="eb" d="M748.3,1366.2 V1405.3 M744.3,1366.2 H752.3 M744.3,1405.3 H752.3 M792.8,1399 V1408 M788.8,1399 H796.8 M788.8,1408 H796.8 M819.5,1327.9 V1365.6 M815.5,1327.9 H823.5 M815.5,1365.6 H823.5"/>
<g fill="#2d4f9e" stroke="#333" stroke-width="0.7"><circle cx="716" cy="1382.2" r="3.6"/><circle cx="722" cy="1382.2" r="3.6"/><circle cx="728" cy="1382.2" r="3.6"/><circle cx="722" cy="1376.9" r="3.6"/>
<circle cx="748.3" cy="1357.6" r="3.6"/><circle cx="748.3" cy="1387.3" r="3.6"/><circle cx="748.3" cy="1395.3" r="3.6"/><circle cx="748.3" cy="1410" r="3.6"/></g>
<g fill="#3f8ed3" stroke="#333" stroke-width="0.7"><circle cx="786.7" cy="1399.3" r="3.6"/><circle cx="799" cy="1399.3" r="3.6"/><circle cx="786.7" cy="1406.6" r="3.6"/><circle cx="799" cy="1406.6" r="3.6"/>
<circle cx="819.5" cy="1324" r="3.6"/><circle cx="819.5" cy="1341.1" r="3.6"/><circle cx="819.5" cy="1359" r="3.6"/><circle cx="819.5" cy="1366.2" r="3.6"/></g>
<path d="M726.7,1348.5 V1345.7 H799.3 V1348.5 M752.7,1319.5 V1316.7 H825 V1319.5 M790,1293 V1290 H825 V1293" stroke="#555" stroke-width="1.2" fill="none"/>
<g class="x" text-anchor="middle"><text x="762" y="1341">0.0008</text><text x="788" y="1312">0.0266</text><text x="807" y="1284.3">0.0063</text></g>
<g style="font-size:13.5px" text-anchor="end">
<text transform="translate(722,1461) rotate(-45)">Baseline</text><text transform="translate(751,1461) rotate(-45)">3 days</text>
<text transform="translate(793,1461) rotate(-45)">Baseline</text><text transform="translate(822,1461) rotate(-45)">3 days</text>
</g>
<path d="M716.7,1505.7 H765 M781.7,1505.7 H830" stroke="#333" stroke-width="1.1"/>
<text class="m" x="738" y="1520" text-anchor="middle">Young</text>
<text class="m" x="810" y="1520" text-anchor="middle">Old</text>

<!-- I2 -->
<text class="m" x="1008" y="1254" text-anchor="middle">EIF5A</text>
<text class="m" transform="translate(898,1382) rotate(-90)" text-anchor="middle">EIF5A/Ponceau</text>
<path class="ax" d="M937.3,1316 V1448.3 H1075 M932.3,1316 H937.3 M932.3,1349.1 H937.3 M932.3,1382.2 H937.3 M932.3,1415.2 H937.3 M932.3,1448.3 H937.3 M960,1448.3 V1453 M986.7,1448.3 V1453 M1031,1448.3 V1453 M1057.3,1448.3 V1453"/>
<g class="k" text-anchor="end"><text x="929" y="1320.5">2.0</text><text x="929" y="1353.6">1.5</text><text x="929" y="1386.7">1.0</text><text x="929" y="1419.7">0.5</text><text x="929" y="1452.8">0</text></g>
<g class="bar"><rect x="951.3" y="1382.2" width="17.4" height="66.1"/><rect x="978" y="1380" width="17.4" height="68.3"/><rect x="1022.3" y="1386.8" width="17.4" height="61.5"/><rect x="1048.6" y="1373.5" width="17.4" height="74.8"/></g>
<path class="eb" d="M986.7,1371.5 V1388.8 M982.7,1371.5 H990.7 M982.7,1388.8 H990.7 M1031,1378.8 V1395.2 M1027,1378.8 H1035 M1027,1395.2 H1035 M1057.3,1368 V1378 M1053.3,1368 H1061.3"/>
<g fill="#2d4f9e" stroke="#333" stroke-width="0.7"><circle cx="953" cy="1382.2" r="3.6"/><circle cx="960" cy="1382.2" r="3.6"/><circle cx="967" cy="1382.2" r="3.6"/><circle cx="960" cy="1376.9" r="3.6"/>
<circle cx="981" cy="1374.1" r="3.6"/><circle cx="992" cy="1374.1" r="3.6"/><circle cx="987" cy="1383.5" r="3.6"/><circle cx="987" cy="1392" r="3.6"/></g>
<g fill="#3f8ed3" stroke="#333" stroke-width="0.7"><circle cx="1036" cy="1378.8" r="3.6"/><circle cx="1026" cy="1384" r="3.6"/><circle cx="1031" cy="1388.8" r="3.6"/><circle cx="1031" cy="1396.7" r="3.6"/>
<circle cx="1051" cy="1368.9" r="3.6"/><circle cx="1064" cy="1370.9" r="3.6"/><circle cx="1057" cy="1373.5" r="3.6"/><circle cx="1057" cy="1376.9" r="3.6"/></g>
<g style="font-size:13.5px" text-anchor="end">
<text transform="translate(961,1461) rotate(-45)">Baseline</text><text transform="translate(989,1461) rotate(-45)">3 days</text>
<text transform="translate(1032,1461) rotate(-45)">Baseline</text><text transform="translate(1060,1461) rotate(-45)">3 days</text>
</g>
<path d="M948.3,1505.7 H996.7 M1013.3,1505.7 H1061.7" stroke="#333" stroke-width="1.1"/>
<text class="m" x="970" y="1520" text-anchor="middle">Young</text>
<text class="m" x="1035" y="1520" text-anchor="middle">Old</text>
</svg>
</body></html>
